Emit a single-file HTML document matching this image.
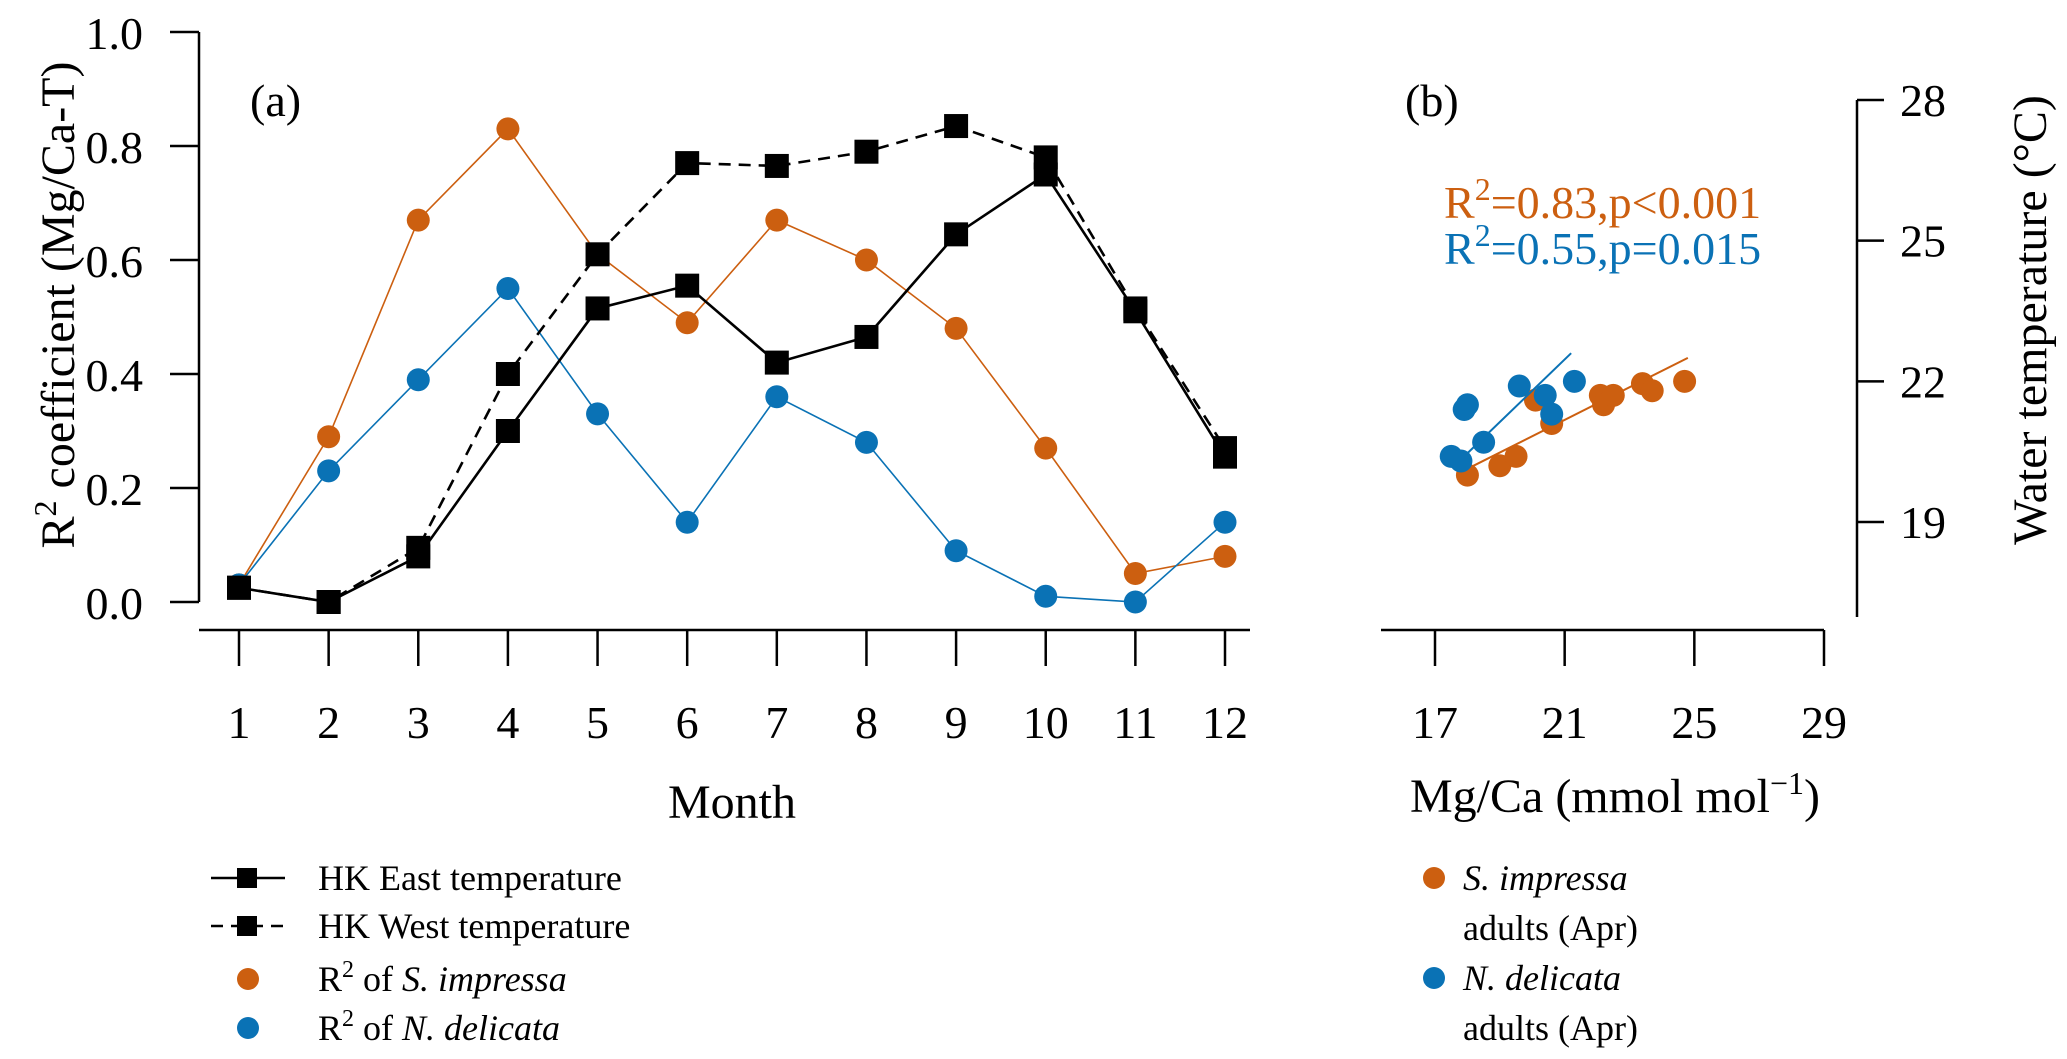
<!DOCTYPE html>
<html><head><meta charset="utf-8"><style>
html,body{margin:0;padding:0;background:#fff}
svg{display:block;font-family:"Liberation Serif",serif}
</style></head><body>
<svg id="c" width="2067" height="1059" viewBox="0 0 2067 1059" xmlns="http://www.w3.org/2000/svg"></svg>
<script>
const months=[1,2,3,4,5,6,7,8,9,10,11,12];
const yTicks=[0,0.2,0.4,0.6,0.8,1.0];
const eastTemp=[0.025,0.0,0.08,0.30,0.515,0.555,0.42,0.465,0.645,0.75,0.51,0.255];
const westTemp=[0.025,0.0,0.095,0.40,0.61,0.77,0.765,0.79,0.835,0.78,0.515,0.27];
const r2Simp=[0.03,0.29,0.67,0.83,0.61,0.49,0.67,0.60,0.48,0.27,0.05,0.08];
const r2Ndel=[0.03,0.23,0.39,0.55,0.33,0.14,0.36,0.28,0.09,0.01,0.0,0.14];
const bXTicks=[17,21,25,29];
const bYTicks=[19,22,25,28];
const simpMg=[18.0,19.0,19.5,20.6,20.1,22.1,22.2,22.5,23.4,23.7,24.7];
const simpT=[20.0,20.2,20.4,21.1,21.6,21.7,21.5,21.7,21.95,21.8,22.0];
const ndelMg=[17.5,17.8,17.9,18.0,18.5,19.6,20.4,20.6,21.3];
const ndelT=[20.4,20.3,21.4,21.5,20.7,21.9,21.7,21.3,22.0];
const simpFitMg=[17.9,24.8], simpFitT=[20.1,22.5];
const ndelFitMg=[17.6,21.2], ndelFitT=[20.2,22.6];

const OR="#cc5f10", BL="#0a72b5";
const svg=document.getElementById('c');
const NS="http://www.w3.org/2000/svg";
function el(t,a,p){const e=document.createElementNS(NS,t);for(const k in a)e.setAttribute(k,a[k]);(p||svg).appendChild(e);return e;}
function txt(x,y,s,a){const e=el('text',Object.assign({x:x,y:y,'font-size':46,fill:'#000'},a||{}));e.innerHTML=s;return e;}

const ax=m=>239+(m-1)*(1225-239)/11;
const ay=v=>602-v*570;
const bx=v=>1435+(v-17)*(1824-1435)/12;
const by=t=>100+(28-t)*(522-100)/9;

let g=el('g',{});

el('line',{x1:199,y1:ay(0),x2:199,y2:ay(1),stroke:'#000','stroke-width':2.5},g);
yTicks.forEach(v=>{el('line',{x1:170,y1:ay(v),x2:199,y2:ay(v),stroke:'#000','stroke-width':2.5},g);
 txt(143,ay(v)+17,v.toFixed(1),{'text-anchor':'end'});});
g=el('g',{});

el('line',{x1:199,y1:630,x2:1250,y2:630,stroke:'#000','stroke-width':2.5},g);
months.forEach(m=>{el('line',{x1:ax(m),y1:630,x2:ax(m),y2:666,stroke:'#000','stroke-width':2.5},g);
 txt(ax(m),738,m,{'text-anchor':'middle'});});
let t=txt(732,818,'Month',{'text-anchor':'middle','font-size':48});

t=txt(0,0,'R<tspan dy="-18" font-size="32">2</tspan><tspan dy="18"> coefficient (Mg/Ca-T)</tspan>',{'text-anchor':'middle','font-size':48,transform:'translate(74,305) rotate(-90)'});

t=txt(250,116,'(a)');

function series(vals,color,w,dash,marker,name){
 const g=el('g',{});
 
 el('polyline',{points:vals.map((v,i)=>ax(months[i])+','+ay(v)).join(' '),fill:'none',stroke:color,'stroke-width':w,'stroke-dasharray':dash||'none'},g);
 vals.forEach((v,i)=>{
  if(marker==='sq') el('rect',{x:ax(months[i])-12,y:ay(v)-12,width:24,height:24,fill:'#000'},g);
  else el('circle',{cx:ax(months[i]),cy:ay(v),r:11.5,fill:color},g);
 });
}
series(r2Simp,OR,1.6,null,'c','series-r2-s-impressa');
series(r2Ndel,BL,1.6,null,'c','series-r2-n-delicata');
series(westTemp,'#000',2.6,'12,8','sq','series-hk-west');
series(eastTemp,'#000',2.6,null,'sq','series-hk-east');

g=el('g',{});

el('line',{x1:1381,y1:630,x2:1824,y2:630,stroke:'#000','stroke-width':2.5},g);
bXTicks.forEach(v=>{el('line',{x1:bx(v),y1:630,x2:bx(v),y2:666,stroke:'#000','stroke-width':2.5},g);
 txt(bx(v),738,v,{'text-anchor':'middle'});});
g=el('g',{});

el('line',{x1:1857,y1:by(28),x2:1857,y2:617,stroke:'#000','stroke-width':2.5},g);
bYTicks.forEach(v=>{el('line',{x1:1857,y1:by(v),x2:1884,y2:by(v),stroke:'#000','stroke-width':2.5},g);
 txt(1900,by(v)+16,v);});
t=txt(0,0,'Water temperature (°C)',{'text-anchor':'middle','font-size':48,transform:'translate(2046,320) rotate(-90)'});

t=txt(1615,812,'Mg/Ca (mmol mol<tspan dy="-18" font-size="32">−1</tspan><tspan dy="18">)</tspan>',{'text-anchor':'middle','font-size':48});

t=txt(1405,116,'(b)');
t=txt(1444,218,'R<tspan dy="-18" font-size="32">2</tspan><tspan dy="18">=0.83,p&lt;0.001</tspan>',{fill:OR});

t=txt(1444,264,'R<tspan dy="-18" font-size="32">2</tspan><tspan dy="18">=0.55,p=0.015</tspan>',{fill:BL});


function scat(xs,ys,fx,fy,color,name){
 const g=el('g',{});
 
 el('line',{x1:bx(fx[0]),y1:by(fy[0]),x2:bx(fx[1]),y2:by(fy[1]),stroke:color,'stroke-width':2},g);
 xs.forEach((x,i)=>el('circle',{cx:bx(x),cy:by(ys[i]),r:11.5,fill:color},g));
}
scat(simpMg,simpT,simpFitMg,simpFitT,OR,'scatter-s-impressa');
scat(ndelMg,ndelT,ndelFitMg,ndelFitT,BL,'scatter-n-delicata');

function legRow(y,kind,label,name){
 const g=el('g',{});
 
 if(kind==='solid'||kind==='dash'){
  el('line',{x1:211,y1:y,x2:285,y2:y,stroke:'#000','stroke-width':2.5,'stroke-dasharray':kind==='dash'?'12,8':'none'},g);
  el('rect',{x:237,y:y-10,width:20,height:20,fill:'#000'},g);
 } else el('circle',{cx:248,cy:y,r:11,fill:kind},g);
 const t=txt(318,y+12,label,{'font-size':36});g.appendChild(t);
}
legRow(878,'solid','HK East temperature','legend-hk-east');
legRow(926,'dash','HK West temperature','legend-hk-west');
legRow(979,OR,'R<tspan dy="-14" font-size="24">2</tspan><tspan dy="14"> of </tspan><tspan font-style="italic">S. impressa</tspan>','legend-r2-s-impressa');
legRow(1028,BL,'R<tspan dy="-14" font-size="24">2</tspan><tspan dy="14"> of </tspan><tspan font-style="italic">N. delicata</tspan>','legend-r2-n-delicata');
function legR(y,color,sp,name){
 const g=el('g',{});
 
 el('circle',{cx:1434,cy:y,r:11,fill:color},g);
 g.appendChild(txt(1463,y+12,sp,{'font-size':36,'font-style':'italic'}));
 g.appendChild(txt(1463,y+62,'adults (Apr)',{'font-size':36}));
}
legR(878,OR,'S. impressa','legend-s-impressa-adults');
legR(978,BL,'N. delicata','legend-n-delicata-adults');
</script>
</body></html>
